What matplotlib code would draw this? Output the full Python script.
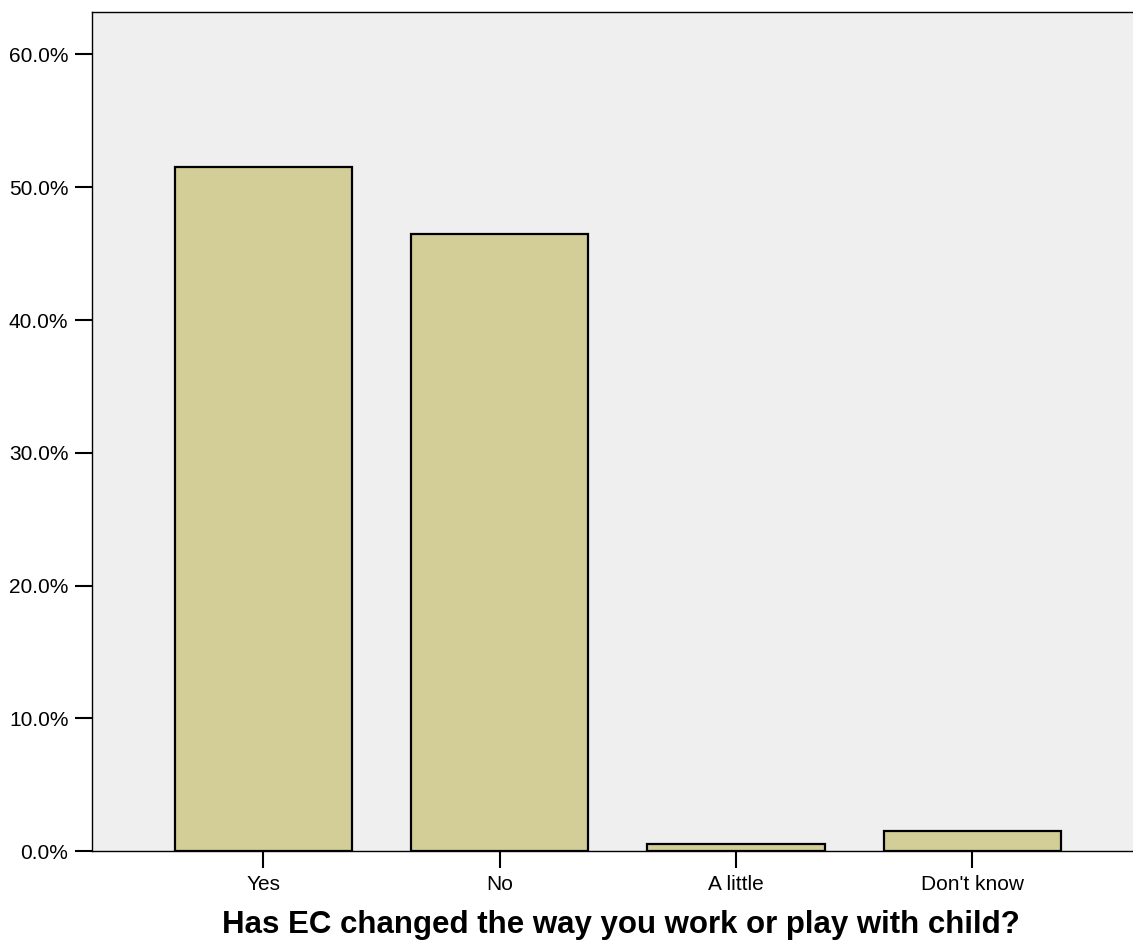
import numpy as np
import matplotlib.pyplot as plt
from matplotlib.ticker import PercentFormatter

# Survey answers (percent of respondents)
categories = ["Yes", "No", "A little", "Don't know"]
percents = [51.5, 46.5, 0.5, 1.5]
y_ticks = [0, 10, 20, 30, 40, 50, 60]

plt.rcParams['font.family'] = ['Liberation Sans', 'DejaVu Sans']

fig = plt.figure(figsize=(11.33, 9.46), dpi=100)
ax = fig.add_axes([0.0812, 0.1004, 0.919, 0.8869])
ax.set_facecolor('#efefef')

x = np.arange(len(categories))
ax.bar(x, percents, width=0.75, color='#d3ce98', edgecolor='black', linewidth=1.6)

ax.set_xlim(-0.725, 3.68)
ax.set_ylim(0, 63.2)
ax.set_xticks(x)
ax.set_xticklabels(categories)
ax.set_yticks(y_ticks)
ax.yaxis.set_major_formatter(PercentFormatter(decimals=1))

ax.tick_params(axis='both', direction='out', length=12, width=1.5,
               labelsize=15, pad=5, colors='black')
for side in ['left', 'bottom', 'top']:
    ax.spines[side].set_linewidth(1.0)
    ax.spines[side].set_color('black')
ax.spines['right'].set_visible(False)

ax.set_xlabel('Has EC changed the way you work or play with child?',
              fontsize=22.5, fontweight='bold')
ax.xaxis.set_label_coords(0.508, -0.07, transform=ax.transAxes)
ax.xaxis.label.set_va('top')

fig.savefig('out.png', dpi=100)
